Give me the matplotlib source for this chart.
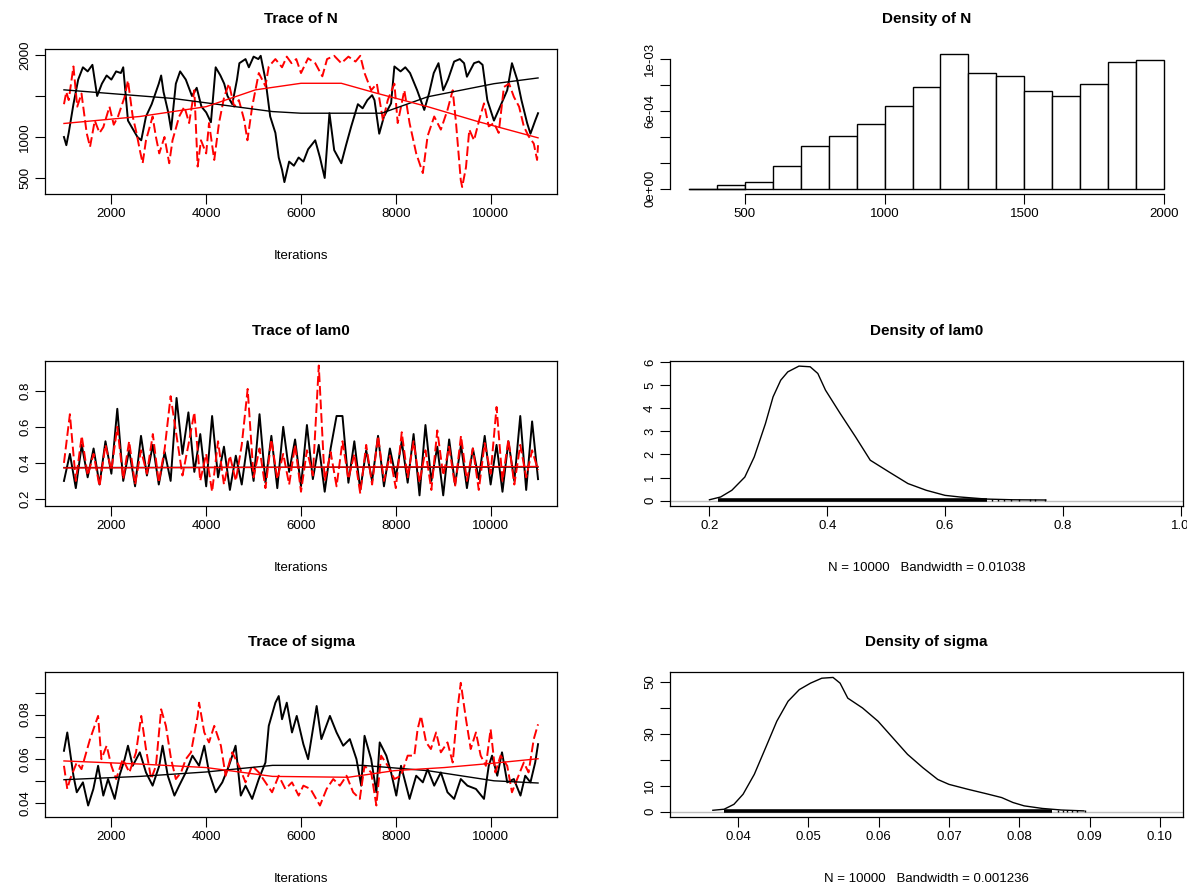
# plot.py
# MCMC diagnostics (trace + density) for N, lam0 and sigma, coda style

import matplotlib.pyplot as plt
import numpy as np

plt.rcParams['font.family'] = ['Liberation Sans', 'DejaVu Sans']

# ---- Trace of N (iteration, value) ----
n_black_iter = [1000, 1050, 1100, 1200, 1300, 1400, 1500, 1600, 1700, 1800, 1900, 2000, 2100, 2200, 2250,
                2350, 2450, 2550, 2630, 2730, 2850, 3000, 3050, 3100, 3200, 3260, 3360, 3450, 3570, 3700,
                3800, 3900, 4000, 4100, 4200, 4300, 4380, 4450, 4550, 4650, 4700, 4830, 4900, 5000, 5100,
                5150, 5250, 5350, 5460, 5530, 5600, 5650, 5750, 5850, 5950, 6050, 6150, 6300, 6400, 6500,
                6600, 6700, 6850, 6950, 7060, 7200, 7300, 7400, 7500, 7550, 7650, 7750, 7900, 7970, 8100,
                8200, 8300, 8450, 8600, 8700, 8800, 8900, 9000, 9100, 9230, 9350, 9440, 9500, 9650, 9750,
                9830, 9930, 10070, 10200, 10350, 10450, 10560, 10650, 10770, 10840, 10940, 11000]
n_black_val = [1000, 900, 1050, 1400, 1700, 1850, 1800, 1880, 1500, 1650, 1750, 1700, 1800, 1780, 1850,
               1200, 1100, 1000, 960, 1250, 1400, 1650, 1750, 1550, 1300, 1090, 1650, 1800, 1700, 1500,
               1600, 1370, 1300, 1180, 1850, 1750, 1650, 1500, 1400, 1700, 1900, 1950, 1850, 1980, 1950,
               1990, 1700, 1250, 1050, 750, 600, 450, 700, 650, 750, 700, 850, 960, 750, 500,
               1290, 840, 680, 900, 1130, 1400, 1350, 1450, 1510, 1450, 1040, 1250, 1410, 1860, 1800,
               1850, 1780, 1570, 1330, 1530, 1780, 1900, 1570, 1700, 1920, 1950, 1900, 1735, 1900, 1920,
               1880, 1450, 1200, 1370, 1570, 1900, 1700, 1450, 1170, 1040, 1200, 1290]
n_red_iter = [1000, 1050, 1100, 1200, 1280, 1370, 1480, 1550, 1650, 1750, 1830, 1960, 2050, 2140, 2280,
              2350, 2450, 2530, 2600, 2660, 2730, 2870, 2940, 3010, 3120, 3220, 3290, 3430, 3540, 3640,
              3750, 3820, 3890, 4000, 4060, 4170, 4270, 4380, 4480, 4590, 4690, 4800, 4870, 4970, 5110,
              5250, 5320, 5460, 5600, 5700, 5800, 5900, 6000, 6150, 6300, 6450, 6550, 6700, 6850, 7000,
              7150, 7250, 7340, 7480, 7600, 7730, 7830, 7970, 8040, 8180, 8290, 8430, 8570, 8670, 8810,
              8950, 9090, 9200, 9270, 9370, 9400, 9480, 9550, 9650, 9760, 9860, 9960, 10070, 10170, 10280,
              10390, 10490, 10600, 10700, 10800, 10910, 10980, 11000]
n_red_val = [1400, 1550, 1450, 1860, 1370, 1530, 1045, 880, 1200, 1050, 1120, 1370, 1150, 1250, 1490,
             1690, 1250, 1050, 840, 680, 960, 1250, 1000, 800, 1000, 680, 960, 1250, 1370, 1170,
             1570, 640, 960, 800, 1170, 720, 1170, 1490, 1650, 1370, 1450, 1210, 960, 1370, 1780,
             1620, 1860, 1950, 1850, 1980, 1900, 1950, 1780, 1960, 1900, 1740, 1950, 1990, 1900, 1980,
             1920, 1990, 1780, 1570, 1650, 1200, 1450, 1650, 1170, 1570, 1170, 800, 560, 1010, 1250,
             1090, 1330, 1570, 1170, 475, 390, 630, 1090, 960, 1210, 1410, 1130, 1170, 1050, 1610,
             1650, 1490, 1370, 1130, 1010, 920, 720, 900]
n_black_smooth_iter = [1000, 3300, 5400, 6000, 7700, 8670, 10070, 11000]
n_black_smooth = [1575, 1470, 1310, 1290, 1290, 1490, 1650, 1720]
n_red_smooth_iter = [1000, 2600, 4000, 5040, 6000, 6850, 7620, 8670, 9720, 11000]
n_red_smooth = [1165, 1250, 1370, 1575, 1655, 1655, 1530, 1370, 1190, 990]

# ---- Density of N: histogram densities for bins of 100 from 300 to 2000 ----
n_breaks = [300, 400, 500, 600, 700, 800, 900, 1000, 1100, 1200, 1300, 1400, 1500, 1600, 1700, 1800, 1900, 2000]
n_density = [0.0, 2.6e-5, 5.4e-5, 1.75e-4, 3.3e-4, 4.07e-4, 4.95e-4, 6.39e-4, 7.81e-4, 1.036e-3,
             8.92e-4, 8.71e-4, 7.5e-4, 7.16e-4, 8.07e-4, 9.79e-4, 9.92e-4]

# ---- Trace of lam0 (one reading every 125 iterations, 1000..11000) ----
lam0_black = [0.30, 0.45, 0.26, 0.50, 0.32, 0.48, 0.28, 0.52, 0.34, 0.70, 0.30, 0.47, 0.27, 0.55, 0.33,
              0.50, 0.28, 0.46, 0.30, 0.76, 0.45, 0.68, 0.35, 0.56, 0.27, 0.66, 0.32, 0.49, 0.25, 0.44,
              0.28, 0.52, 0.30, 0.67, 0.29, 0.55, 0.26, 0.60, 0.35, 0.53, 0.27, 0.61, 0.31, 0.50, 0.24,
              0.48, 0.66, 0.66, 0.29, 0.52, 0.25, 0.47, 0.30, 0.55, 0.27, 0.48, 0.32, 0.52, 0.29, 0.56,
              0.22, 0.61, 0.30, 0.49, 0.22, 0.53, 0.28, 0.50, 0.26, 0.48, 0.31, 0.55, 0.28, 0.50, 0.24,
              0.52, 0.30, 0.66, 0.25, 0.63, 0.31]
lam0_red = [0.40, 0.67, 0.30, 0.55, 0.33, 0.45, 0.27, 0.50, 0.36, 0.60, 0.31, 0.52, 0.28, 0.47, 0.34,
            0.56, 0.29, 0.48, 0.77, 0.55, 0.33, 0.50, 0.68, 0.30, 0.45, 0.24, 0.52, 0.28, 0.44, 0.30,
            0.50, 0.81, 0.32, 0.48, 0.26, 0.53, 0.31, 0.45, 0.28, 0.50, 0.24, 0.47, 0.33, 0.94, 0.30,
            0.46, 0.27, 0.52, 0.31, 0.45, 0.23, 0.50, 0.28, 0.55, 0.30, 0.44, 0.26, 0.57, 0.32, 0.52,
            0.29, 0.47, 0.25, 0.58, 0.33, 0.49, 0.27, 0.55, 0.30, 0.48, 0.25, 0.51, 0.34, 0.71, 0.30,
            0.53, 0.28, 0.50, 0.32, 0.47, 0.36]
lam0_smooth_iter = [1000, 11000]
lam0_black_smooth = [0.374, 0.377]
lam0_red_smooth = [0.372, 0.380]

# ---- Density of lam0 (x, density) ----
lam0_dens_x = [0.200, 0.219, 0.238, 0.260, 0.276, 0.295, 0.308, 0.321, 0.333, 0.352, 0.371, 0.384, 0.397,
               0.422, 0.448, 0.473, 0.505, 0.537, 0.568, 0.600, 0.625, 0.670, 0.714, 0.771]
lam0_dens_y = [0.04, 0.16, 0.45, 1.02, 1.89, 3.33, 4.49, 5.21, 5.57, 5.82, 5.79, 5.50, 4.78,
               3.77, 2.76, 1.75, 1.24, 0.74, 0.45, 0.23, 0.16, 0.07, 0.04, 0.03]
lam0_rug_span = [0.215, 0.672]
lam0_rug_tail = [0.680, 0.690, 0.700, 0.712, 0.725, 0.745, 0.752, 0.770]

# ---- Trace of sigma (iteration, value) ----
sig_black_iter = [1000, 1070, 1200, 1270, 1400, 1510, 1620, 1720, 1830, 1930, 2070, 2170, 2280, 2350, 2450,
                  2600, 2730, 2870, 3010, 3080, 3190, 3330, 3430, 3570, 3710, 3850, 3960, 4060, 4200, 4340,
                  4480, 4620, 4730, 4830, 4970, 5110, 5250, 5320, 5460, 5530, 5600, 5700, 5810, 5910, 6050,
                  6150, 6330, 6430, 6610, 6750, 6890, 7030, 7170, 7270, 7340, 7480, 7590, 7660, 7800, 7900,
                  8010, 8110, 8290, 8430, 8570, 8670, 8810, 8950, 9090, 9230, 9370, 9510, 9690, 9860, 9960,
                  10030, 10140, 10240, 10350, 10490, 10630, 10730, 10840, 10940, 11000]
sig_black_val = [0.0636, 0.0719, 0.0523, 0.0448, 0.0493, 0.0388, 0.0463, 0.0568, 0.0433, 0.0508, 0.0418,
                 0.0523, 0.0598, 0.0659, 0.0568, 0.0629, 0.0538, 0.0478, 0.0568, 0.0659, 0.0523, 0.0433,
                 0.0478, 0.0538, 0.0614, 0.0568, 0.0659, 0.0538, 0.0448, 0.0493, 0.0568, 0.0659, 0.0433,
                 0.0478, 0.0418, 0.0508, 0.0583, 0.0749, 0.0854, 0.0884, 0.0779, 0.0854, 0.0719, 0.0794,
                 0.0666, 0.0598, 0.0839, 0.0689, 0.0794, 0.0719, 0.0659, 0.0689, 0.0598, 0.0478, 0.0704,
                 0.0598, 0.0448, 0.0674, 0.0614, 0.0538, 0.0433, 0.0568, 0.0418, 0.0523, 0.0493, 0.0553,
                 0.0478, 0.0538, 0.0448, 0.0418, 0.0508, 0.0478, 0.0463, 0.0418, 0.0568, 0.0614, 0.0523,
                 0.0629, 0.0493, 0.0508, 0.0433, 0.0523, 0.0493, 0.0583, 0.0666]
sig_red_iter = [1000, 1070, 1130, 1270, 1370, 1550, 1720, 1790, 1900, 2000, 2100, 2240, 2380, 2520, 2630,
                2730, 2840, 2940, 3050, 3150, 3260, 3360, 3470, 3570, 3680, 3820, 3850, 3960, 4060, 4170,
                4310, 4410, 4550, 4690, 4830, 4970, 5110, 5250, 5390, 5530, 5670, 5810, 5950, 6050, 6200,
                6400, 6540, 6680, 6820, 6960, 7100, 7240, 7340, 7480, 7590, 7690, 7830, 7970, 8110, 8250,
                8390, 8460, 8530, 8640, 8740, 8850, 8950, 9090, 9200, 9300, 9370, 9400, 9480, 9580, 9690,
                9790, 9900, 10000, 10100, 10210, 10350, 10450, 10560, 10700, 10800, 10910, 11000]
sig_red_val = [0.0568, 0.0463, 0.0508, 0.0583, 0.0553, 0.0689, 0.0794, 0.0598, 0.0659, 0.0568, 0.0508,
               0.0598, 0.0538, 0.0629, 0.0794, 0.0644, 0.0508, 0.0568, 0.0824, 0.0749, 0.0598, 0.0508,
               0.0538, 0.0598, 0.0629, 0.0794, 0.0854, 0.0719, 0.0674, 0.0749, 0.0659, 0.0523, 0.0629,
               0.0568, 0.0493, 0.0568, 0.0538, 0.0493, 0.0448, 0.0523, 0.0463, 0.0493, 0.0433, 0.0478,
               0.0463, 0.0388, 0.0463, 0.0508, 0.0478, 0.0523, 0.0448, 0.0418, 0.0568, 0.0538, 0.0388,
               0.0614, 0.0568, 0.0508, 0.0523, 0.0614, 0.0614, 0.0734, 0.0794, 0.0674, 0.0644, 0.0719,
               0.0629, 0.0674, 0.0583, 0.0824, 0.0944, 0.0899, 0.0779, 0.0644, 0.0719, 0.0614, 0.0568,
               0.0734, 0.0538, 0.0614, 0.0568, 0.0448, 0.0508, 0.0583, 0.0538, 0.0689, 0.0756]
sig_black_smooth_iter = [1000, 2600, 4000, 5400, 7300, 8670, 10070, 11000]
sig_black_smooth = [0.0505, 0.0520, 0.0540, 0.0570, 0.0570, 0.0546, 0.0500, 0.0490]
sig_red_smooth_iter = [1000, 2600, 4000, 5400, 7000, 7970, 9020, 10070, 11000]
sig_red_smooth = [0.0590, 0.0576, 0.0560, 0.0520, 0.0516, 0.0546, 0.0560, 0.0580, 0.0600]

# ---- Density of sigma (x, density) ----
sig_dens_x = [0.0364, 0.0380, 0.0394, 0.0407, 0.0423, 0.0439, 0.0455, 0.0471, 0.0487, 0.0503, 0.0519,
              0.0535, 0.0545, 0.0556, 0.0577, 0.0599, 0.0620, 0.0641, 0.0663, 0.0684, 0.0700, 0.0727,
              0.0753, 0.0775, 0.0791, 0.0807, 0.0833, 0.0860, 0.0892]
sig_dens_y = [0.5, 0.9, 2.8, 6.7, 14.4, 24.6, 34.9, 42.6, 47.1, 49.6, 51.5, 51.8, 49.6, 43.8, 40.0,
              34.9, 28.5, 22.1, 16.9, 12.4, 10.5, 8.6, 6.9, 5.4, 3.5, 2.2, 1.2, 0.6, 0.26]
sig_rug_span = [0.0380, 0.0847]
sig_rug_tail = [0.0855, 0.0862, 0.0868, 0.0875, 0.0882, 0.0893]

TRACE_XTICKS = [2000, 4000, 6000, 8000, 10000]


def style_axes(ax):
    ax.tick_params(direction='out', length=7, width=0.8, pad=3, labelsize=9.5)
    for lab in ax.get_yticklabels():
        lab.set_rotation(90)
        lab.set_va('center')
    for s in ax.spines.values():
        s.set_linewidth(0.9)


def trace_panel(ax, title, bx, by, rx, ry, sbx, sby, srx, sry, ylim, yticks, ylabels):
    ax.plot(bx, by, color='black', lw=1.4)
    ax.plot(rx, ry, color='red', lw=1.4, linestyle=(0, (5, 2)))
    ax.plot(sbx, sby, color='black', lw=1.0)
    ax.plot(srx, sry, color='red', lw=1.0)
    ax.set_xlim(600, 11400)
    ax.set_ylim(*ylim)
    ax.set_xticks(TRACE_XTICKS)
    ax.set_yticks(yticks)
    ax.set_yticklabels(ylabels)
    ax.set_title(title, fontsize=11, fontweight='bold', pad=19)
    ax.set_xlabel('Iterations', fontsize=9.5, labelpad=22)
    style_axes(ax)


def density_panel(ax, title, dx, dy, rug_span, rug_tail, xlim, ylim, xticks, xlabels,
                  yticks, ylabels, note):
    ax.axhline(0, color='#bebebe', lw=1.0)
    ax.plot(dx, dy, color='black', lw=1.0)
    h = max(dy) / 100
    ax.plot(rug_span, [h / 2, h / 2], color='black', lw=2.6, solid_capstyle='butt')
    ax.vlines(rug_tail, 0, h * 1.5, color='black', lw=1.0)
    ax.set_xlim(*xlim)
    ax.set_ylim(*ylim)
    ax.set_xticks(xticks)
    ax.set_xticklabels(xlabels)
    ax.set_yticks(yticks)
    ax.set_yticklabels(ylabels)
    ax.set_title(title, fontsize=11, fontweight='bold', pad=19)
    ax.set_xlabel(note, fontsize=9.5, labelpad=22)
    style_axes(ax)


def make_figure():
    fig = plt.figure(figsize=(11.87, 8.90), dpi=100)

    left_x, right_x = 45 / 1187, 670 / 1187
    w_l, w_r = 512 / 1187, 513 / 1187
    h = 145 / 890
    rows = [1 - 194 / 890, 1 - 506 / 890, 1 - 817 / 890]

    # ---- Trace of N ----
    ax = fig.add_axes([left_x, rows[0], w_l, h])
    trace_panel(ax, 'Trace of N', n_black_iter, n_black_val, n_red_iter, n_red_val,
                n_black_smooth_iter, n_black_smooth, n_red_smooth_iter, n_red_smooth,
                (305, 2073), [500, 1000, 1500, 2000], ['500', '1000', '', '2000'])

    # ---- Density of N (histogram, R style open axes) ----
    ax = fig.add_axes([right_x, rows[0], w_r, h])
    ax.bar(n_breaks[:-1], n_density, width=np.diff(n_breaks), align='edge',
           color='white', edgecolor='black', linewidth=1.0)
    ax.plot([n_breaks[0], n_breaks[2]], [0, 0], color='black', lw=1.0)
    ax.set_xlim(232, 2068)
    ax.set_ylim(-4.1e-5, 1.077e-3)
    ax.set_xticks([500, 1000, 1500, 2000])
    ax.set_yticks([0, 2e-4, 4e-4, 6e-4, 8e-4, 1e-3])
    ax.set_yticklabels(['0e+00', '', '', '6e-04', '', '1e-03'])
    ax.spines['top'].set_visible(False)
    ax.spines['right'].set_visible(False)
    ax.spines['bottom'].set_bounds(500, 2000)
    ax.spines['left'].set_bounds(0, 1e-3)
    ax.set_title('Density of N', fontsize=11, fontweight='bold', pad=19)
    style_axes(ax)

    # ---- Trace of lam0 ----
    lam0_iter = np.linspace(1000, 11000, len(lam0_black))
    ax = fig.add_axes([left_x, rows[1], w_l, h])
    trace_panel(ax, 'Trace of lam0', lam0_iter, lam0_black, lam0_iter, lam0_red,
                lam0_smooth_iter, lam0_black_smooth, lam0_smooth_iter, lam0_red_smooth,
                (0.161, 0.965), [0.2, 0.4, 0.6, 0.8], ['0.2', '0.4', '0.6', '0.8'])

    # ---- Density of lam0 ----
    ax = fig.add_axes([right_x, rows[1], w_r, h])
    density_panel(ax, 'Density of lam0', lam0_dens_x, lam0_dens_y, lam0_rug_span, lam0_rug_tail,
                  (0.133, 1.004), (-0.23, 6.04), [0.2, 0.4, 0.6, 0.8, 1.0],
                  ['0.2', '0.4', '0.6', '0.8', '1.0'], range(7), [str(i) for i in range(7)],
                  'N = 10000   Bandwidth = 0.01038')

    # ---- Trace of sigma ----
    ax = fig.add_axes([left_x, rows[2], w_l, h])
    trace_panel(ax, 'Trace of sigma', sig_black_iter, sig_black_val, sig_red_iter, sig_red_val,
                sig_black_smooth_iter, sig_black_smooth, sig_red_smooth_iter, sig_red_smooth,
                (0.0336, 0.0993), [0.04, 0.05, 0.06, 0.07, 0.08, 0.09],
                ['0.04', '', '0.06', '', '0.08', ''])

    # ---- Density of sigma ----
    ax = fig.add_axes([right_x, rows[2], w_r, h])
    density_panel(ax, 'Density of sigma', sig_dens_x, sig_dens_y, sig_rug_span, sig_rug_tail,
                  (0.0303, 0.1033), (-2.1, 53.9), [0.04, 0.05, 0.06, 0.07, 0.08, 0.09, 0.10],
                  ['0.04', '0.05', '0.06', '0.07', '0.08', '0.09', '0.10'],
                  [0, 10, 20, 30, 40, 50], ['0', '10', '', '30', '', '50'],
                  'N = 10000   Bandwidth = 0.001236')

    fig.savefig('out.png', dpi=100, facecolor='white')


if __name__ == "__main__":
    make_figure()
